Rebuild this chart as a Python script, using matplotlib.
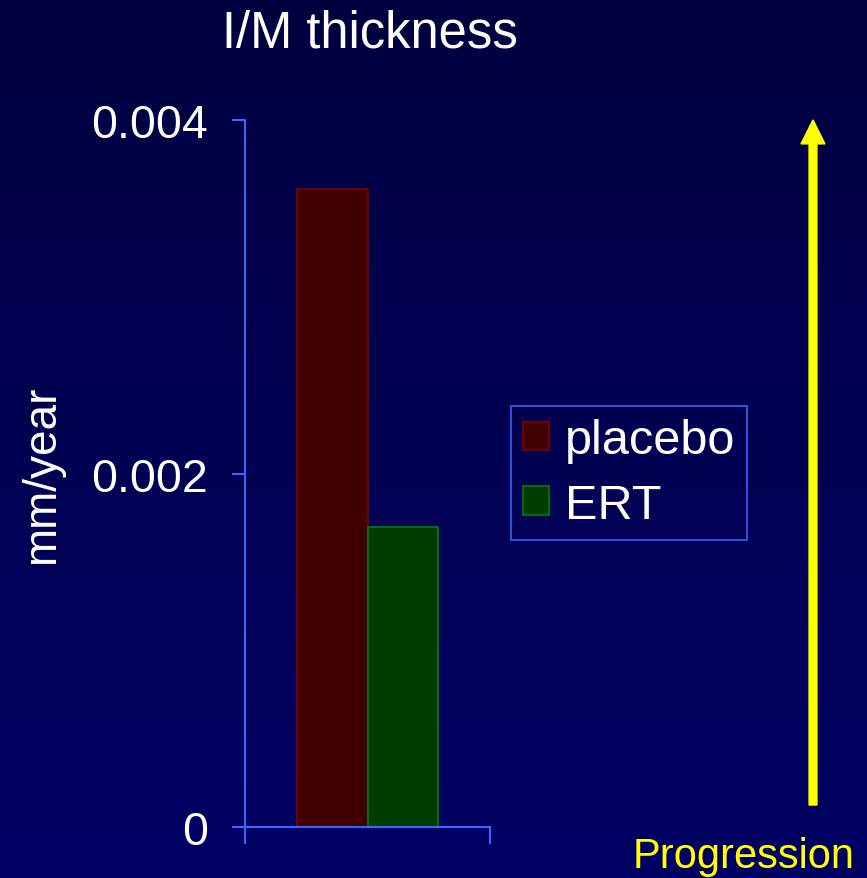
import numpy as np
import matplotlib
matplotlib.use('Agg')
import matplotlib.pyplot as plt

# I/M thickness progression rate
groups = ['placebo', 'ERT']
rates = [0.00361, 0.0017]
face_colors = ['#400000', '#003c00']
edge_colors = ['#800000', '#008000']
y_ticks = [0, 0.002, 0.004]
y_tick_labels = ['0', '0.002', '0.004']

plt.rcParams['font.family'] = ['Liberation Sans', 'DejaVu Sans']
axis_blue = '#3a66ff'

fig = plt.figure(figsize=(8.67, 8.79), dpi=100)

# vertical background gradient, dark navy at top to brighter navy at bottom
bg = fig.add_axes([0, 0, 1, 1], zorder=-10)
grad = np.linspace(0, 1, 256).reshape(-1, 1)
top = np.array([0x00, 0x00, 0x40]) / 255
bottom = np.array([0x00, 0x00, 0x64]) / 255
img = top + (bottom - top) * grad[..., None]
bg.imshow(img, aspect='auto', extent=[0, 1, 0, 1], origin='upper')
bg.axis('off')

ax = fig.add_axes([245 / 867, 1 - 828 / 879, 245 / 867, 707 / 879])
ax.patch.set_alpha(0)

width = 0.286
offsets = [-width / 2, width / 2]
for name, val, fc, ec, off in zip(groups, rates, face_colors, edge_colors, offsets):
    ax.bar(0.5 + off, val, width=width, color=fc, edgecolor=ec, linewidth=1.2, label=name)

ax.set_xlim(0, 1)
ax.set_ylim(0, 0.004)
ax.set_xticks([0, 1])
ax.set_xticklabels([])
ax.set_yticks(y_ticks)
ax.set_yticklabels(y_tick_labels, color='white', fontsize=33.5)
ax.tick_params(axis='y', direction='out', length=9.5, width=1.5, color=axis_blue, pad=17)
ax.tick_params(axis='x', direction='out', length=12, width=1.5, color=axis_blue)
for side in ['top', 'right']:
    ax.spines[side].set_visible(False)
for side in ['left', 'bottom']:
    ax.spines[side].set_color(axis_blue)
    ax.spines[side].set_linewidth(1.5)

fig.text(370 / 867, 1 - 34 / 879, 'I/M thickness', color='white', fontsize=36.5,
         ha='center', va='center')
fig.text(42 / 867, 1 - 475 / 879, 'mm/year', color='white', fontsize=33,
         rotation=90, ha='center', va='center')

leg = ax.legend(loc='upper left', bbox_to_anchor=(511 / 867, 1 - 407 / 879),
                bbox_transform=fig.transFigure, fontsize=35, frameon=True,
                fancybox=False, handlelength=0.53, handleheight=0.53,
                handletextpad=0.33, labelspacing=0.4, borderpad=0.25,
                borderaxespad=0)
leg.get_frame().set_facecolor('none')
leg.get_frame().set_edgecolor(axis_blue)
leg.get_frame().set_linewidth(1.5)
for t in leg.get_texts():
    t.set_color('white')

# yellow arrow pointing up
fig.patches.append(matplotlib.patches.FancyArrow(
    813 / 867, 1 - 806 / 879, 0, (806 - 120) / 879 - 0.001,
    width=8 / 879, head_width=24 / 867, head_length=24 / 879,
    length_includes_head=True, color='#ffff00', transform=fig.transFigure))
fig.text(744 / 867, 1 - 857 / 879, 'Progression', color='#ffff00', fontsize=30,
         ha='center', va='center')

fig.savefig('out.png', dpi=100)
